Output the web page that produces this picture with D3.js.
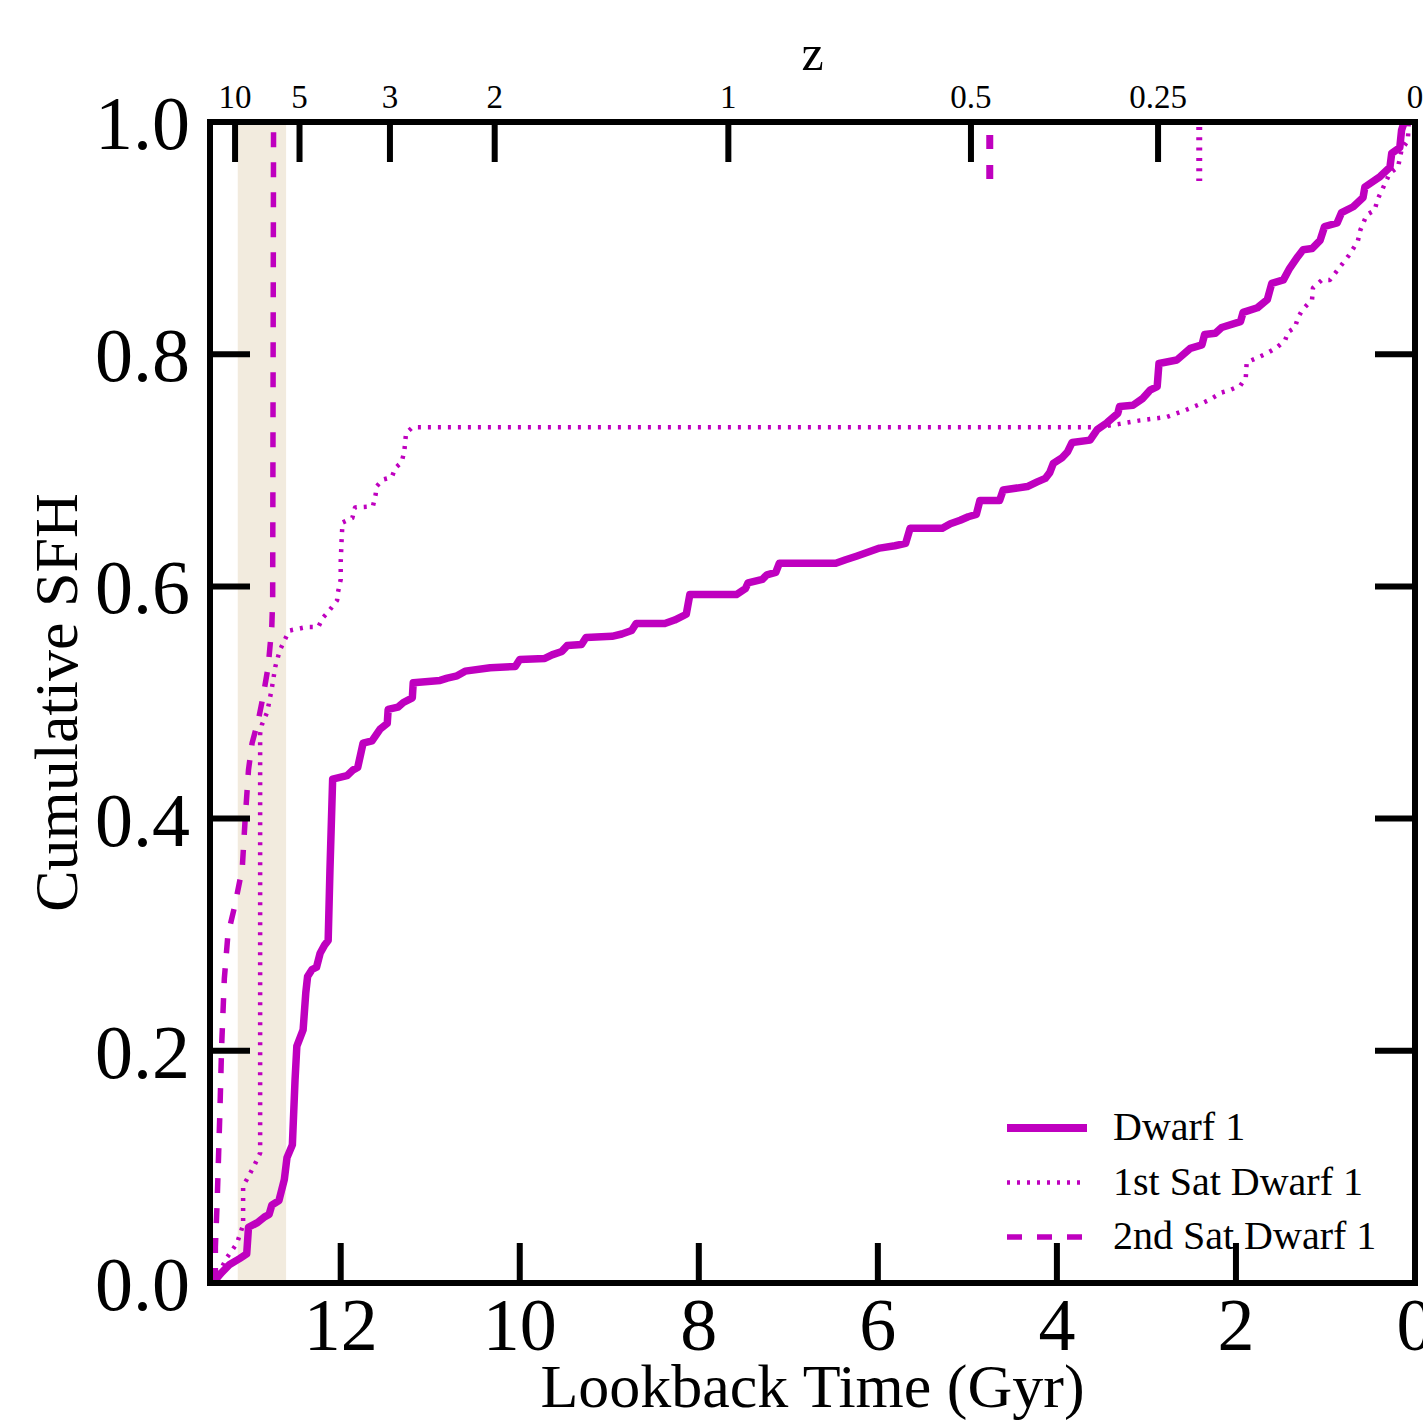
<!DOCTYPE html>
<html>
<head>
<meta charset="utf-8">
<script src="https://cdn.jsdelivr.net/npm/d3@7"></script>
<style>
  body { margin: 0; background: #fff; }
  svg text { font-family: "Liberation Serif", "DejaVu Serif", serif; fill: #000; }
</style>
</head>
<body>
<div id="chart"></div>
<script>
// cumulative SFH, [lookback Gyr, fraction]
var dwarf1 = [
  [13.43,0],[13.33,0.009],[13.24,0.016],[13.13,0.021],[13.05,0.025],[13.03,0.048],[12.93,0.052],
  [12.85,0.057],[12.80,0.059],[12.77,0.067],[12.69,0.071],[12.63,0.089],[12.60,0.108],[12.54,0.119],
  [12.51,0.175],[12.49,0.204],[12.42,0.218],[12.39,0.25],[12.37,0.264],[12.32,0.27],[12.27,0.272],
  [12.23,0.284],[12.18,0.291],[12.14,0.295],[12.12,0.356],[12.09,0.434],[11.93,0.437],[11.86,0.442],
  [11.81,0.444],[11.75,0.465],[11.65,0.467],[11.56,0.477],[11.48,0.482],[11.47,0.494],[11.36,0.496],
  [11.30,0.50],[11.20,0.504],[11.19,0.517],[10.89,0.519],[10.81,0.521],[10.70,0.523],[10.61,0.527],
  [10.33,0.530],[10.05,0.531],[10.00,0.537],[9.72,0.538],[9.64,0.541],[9.53,0.544],[9.47,0.549],
  [9.31,0.550],[9.26,0.556],[8.97,0.557],[8.86,0.559],[8.75,0.562],[8.70,0.568],[8.38,0.568],
  [8.27,0.571],[8.14,0.576],[8.10,0.593],[7.58,0.593],[7.48,0.598],[7.45,0.603],[7.29,0.606],
  [7.24,0.610],[7.14,0.612],[7.10,0.620],[6.47,0.620],[6.36,0.623],[6.24,0.626],[6.09,0.630],
  [5.98,0.633],[5.81,0.635],[5.69,0.637],[5.64,0.650],[5.28,0.650],[5.19,0.654],[5.08,0.657],
  [4.99,0.660],[4.90,0.662],[4.86,0.674],[4.64,0.674],[4.60,0.683],[4.33,0.686],[4.22,0.690],
  [4.13,0.693],[4.08,0.698],[4.04,0.706],[3.94,0.711],[3.88,0.716],[3.83,0.724],[3.63,0.726],
  [3.55,0.735],[3.44,0.741],[3.32,0.749],[3.30,0.755],[3.15,0.756],[3.04,0.762],[2.96,0.769],
  [2.88,0.772],[2.86,0.792],[2.66,0.795],[2.51,0.805],[2.38,0.808],[2.35,0.817],[2.23,0.818],
  [2.16,0.823],[1.95,0.828],[1.92,0.836],[1.76,0.840],[1.65,0.847],[1.60,0.861],[1.47,0.864],
  [1.40,0.874],[1.31,0.884],[1.25,0.890],[1.15,0.891],[1.06,0.898],[1.01,0.910],[0.87,0.913],
  [0.82,0.922],[0.69,0.927],[0.58,0.935],[0.56,0.944],[0.39,0.953],[0.28,0.961],[0.26,0.973],
  [0.17,0.978],[0.15,0.993],[0.12,1.0]
];

var sat1 = [
  [13.43,0],[13.40,0.003],[13.27,0.022],[13.16,0.034],[13.09,0.05],[13.09,0.084],[13.05,0.089],
  [12.96,0.102],[12.90,0.112],[12.90,0.473],[12.88,0.481],[12.82,0.492],[12.77,0.512],[12.73,0.531],
  [12.68,0.545],[12.60,0.558],[12.57,0.562],[12.38,0.565],[12.25,0.565],[12.20,0.573],[12.14,0.578],
  [12.04,0.588],[12.03,0.595],[12.00,0.606],[12.00,0.621],[11.99,0.640],[11.98,0.655],[11.87,0.659],
  [11.84,0.668],[11.64,0.669],[11.61,0.679],[11.60,0.686],[11.53,0.692],[11.43,0.694],[11.39,0.702],
  [11.32,0.707],[11.29,0.716],[11.28,0.724],[11.27,0.732],[11.20,0.737],[3.55,0.737],[3.30,0.740],
  [3.07,0.743],[2.77,0.746],[2.59,0.751],[2.40,0.757],[2.29,0.761],[2.16,0.767],[2.07,0.769],
  [1.95,0.773],[1.89,0.780],[1.88,0.793],[1.76,0.797],[1.65,0.801],[1.54,0.806],[1.45,0.812],
  [1.42,0.819],[1.34,0.823],[1.31,0.831],[1.26,0.838],[1.15,0.847],[1.14,0.857],[1.04,0.864],
  [0.95,0.864],[0.84,0.875],[0.74,0.885],[0.64,0.897],[0.61,0.907],[0.54,0.920],[0.45,0.924],
  [0.42,0.933],[0.28,0.956],[0.19,0.961],[0.15,0.976],[0.08,0.984],[0.07,1.0]
];

var sat2 = [
  [13.40,0],[13.40,0.031],[13.38,0.07],[13.35,0.146],[13.33,0.204],[13.30,0.262],[13.26,0.30],
  [13.18,0.326],[13.10,0.357],[13.07,0.396],[13.03,0.442],[12.99,0.465],[12.92,0.485],[12.87,0.504],
  [12.81,0.531],[12.77,0.565],[12.76,0.588],[12.75,1.0]
];

var timeTicks = [12, 10, 8, 6, 4, 2, 0];
var fracTicks = [0, 0.2, 0.4, 0.6, 0.8, 1.0];
var zLabels = ["10", "5", "3", "2", "1", "0.5", "0.25", "0"];
var zTimes = [13.18, 12.46, 11.45, 10.28, 7.67, 4.96, 2.87, 0];
var band = [13.15, 12.61];        // shaded epoch
var infallSat1 = 2.41;            // dotted marker
var infallSat2 = 4.75;            // dashed marker
var seriesNames = ["Dwarf 1", "1st Sat Dwarf 1", "2nd Sat Dwarf 1"];

var width = 1423, height = 1420;
var plotLeft = 210, plotRight = 1415, plotTop = 122, plotBottom = 1283;
var magenta = "#bf00bf";

var x = d3.scaleLinear().domain([13.46, 0]).range([plotLeft, plotRight]);
var y = d3.scaleLinear().domain([0, 1]).range([plotBottom, plotTop]);

var svg = d3.select("#chart")
            .append("svg")
            .attr("width", width)
            .attr("height", height);

svg.append("rect")
   .attr("x", x(band[0]))
   .attr("width", x(band[1]) - x(band[0]))
   .attr("y", plotTop)
   .attr("height", plotBottom - plotTop)
   .style("fill", "#f2ebde");

var line = d3.line()
             .x(function(d){ return x(d[0]); })
             .y(function(d){ return y(d[1]); });

var styles = [
  { data: dwarf1, w: 7.5, dash: null },
  { data: sat1, w: 4.5, dash: "3 7" },
  { data: sat2, w: 5.5, dash: "15 15" }
];

svg.selectAll("path.sfh")
   .data(styles)
   .enter()
   .append("path")
   .attr("class", "sfh")
   .attr("d", function(d){ return line(d.data); })
   .style("fill", "none")
   .style("stroke", magenta)
   .style("stroke-width", function(d){ return d.w; })
   .style("stroke-dasharray", function(d){ return d.dash; })
   .style("stroke-linejoin", "round");

// infall markers under the top axis
svg.append("line")
   .attr("x1", x(infallSat2)).attr("x2", x(infallSat2))
   .attr("y1", 135).attr("y2", 181)
   .style("stroke", magenta).style("stroke-width", 7)
   .style("stroke-dasharray", "14 16");
svg.append("line")
   .attr("x1", x(infallSat1)).attr("x2", x(infallSat1))
   .attr("y1", 127).attr("y2", 181)
   .style("stroke", magenta).style("stroke-width", 6)
   .style("stroke-dasharray", "3 7.3");

// frame
svg.append("rect")
   .attr("x", plotLeft).attr("y", plotTop)
   .attr("width", plotRight - plotLeft).attr("height", plotBottom - plotTop)
   .style("fill", "none").style("stroke", "#000").style("stroke-width", 6);

var tickLen = 40;

// bottom ticks
svg.selectAll("line.xt")
   .data(timeTicks.filter(function(d){ return d > 0; }))
   .enter().append("line")
   .attr("x1", function(d){ return x(d); }).attr("x2", function(d){ return x(d); })
   .attr("y1", plotBottom).attr("y2", plotBottom - tickLen)
   .style("stroke", "#000").style("stroke-width", 6);

svg.selectAll("text.xl")
   .data(timeTicks)
   .enter().append("text")
   .attr("x", function(d){ return x(d); })
   .attr("y", 1350)
   .attr("text-anchor", "middle")
   .style("font-size", "74px")
   .text(function(d){ return d; });

// left and right ticks
var inner = fracTicks.filter(function(d){ return d > 0 && d < 1; });
svg.selectAll("line.yl")
   .data(inner)
   .enter().append("line")
   .attr("x1", plotLeft).attr("x2", plotLeft + tickLen)
   .attr("y1", function(d){ return y(d); }).attr("y2", function(d){ return y(d); })
   .style("stroke", "#000").style("stroke-width", 6);
svg.selectAll("line.yr")
   .data(inner)
   .enter().append("line")
   .attr("x1", plotRight).attr("x2", plotRight - tickLen)
   .attr("y1", function(d){ return y(d); }).attr("y2", function(d){ return y(d); })
   .style("stroke", "#000").style("stroke-width", 6);

svg.selectAll("text.yl")
   .data(fracTicks)
   .enter().append("text")
   .attr("x", 190)
   .attr("y", function(d){ return y(d) + 27; })
   .attr("text-anchor", "end")
   .style("font-size", "76px")
   .text(function(d){ return d3.format(".1f")(d); });

// top redshift axis
svg.selectAll("line.zt")
   .data(zTimes.slice(0, zTimes.length - 1))
   .enter().append("line")
   .attr("x1", function(d){ return x(d); }).attr("x2", function(d){ return x(d); })
   .attr("y1", plotTop).attr("y2", plotTop + tickLen)
   .style("stroke", "#000").style("stroke-width", 6);

svg.selectAll("text.zl")
   .data(zLabels)
   .enter().append("text")
   .attr("x", function(d, i){ return x(zTimes[i]); })
   .attr("y", 108)
   .attr("text-anchor", "middle")
   .style("font-size", "33px")
   .text(function(d){ return d; });

svg.append("text")
   .attr("x", (plotLeft + plotRight) / 2)
   .attr("y", 70)
   .attr("text-anchor", "middle")
   .style("font-size", "50px")
   .text("z");

svg.append("text")
   .attr("x", (plotLeft + plotRight) / 2)
   .attr("y", 1407)
   .attr("text-anchor", "middle")
   .style("font-size", "62px")
   .text("Lookback Time (Gyr)");

svg.append("text")
   .attr("transform", "translate(77," + ((plotTop + plotBottom) / 2) + ") rotate(-90)")
   .attr("text-anchor", "middle")
   .style("font-size", "62px")
   .text("Cumulative SFH");

// legend
var legend = svg.selectAll("g.leg")
   .data(seriesNames)
   .enter().append("g")
   .attr("transform", function(d, i){ return "translate(1007," + (1128 + i * 54.5) + ")"; });

legend.append("line")
   .attr("x1", 0).attr("x2", 80)
   .style("stroke", magenta)
   .style("stroke-width", function(d, i){ return [8, 4.5, 5.5][i]; })
   .style("stroke-dasharray", function(d, i){ return [null, "3 7", "15 15"][i]; });

legend.append("text")
   .attr("x", 106)
   .attr("y", 12)
   .style("font-size", "40px")
   .text(function(d){ return d; });
</script>
</body>
</html>
